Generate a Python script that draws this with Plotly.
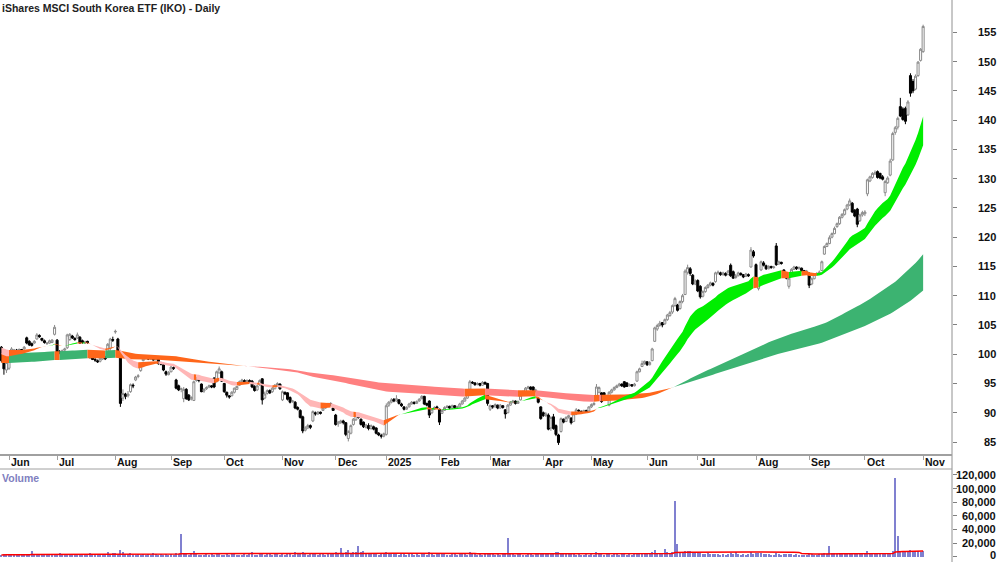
import numpy as np
import pandas as pd
import plotly.graph_objects as go

TITLE = "iShares MSCI South Korea ETF (IKO) - Daily"
HOLIDAYS = ["2024-06-10", "2024-12-25", "2024-12-26", "2025-01-01", "2025-01-27",
            "2025-04-18", "2025-04-21", "2025-04-25", "2025-06-09"]
MONTH_LABELS = ["Jun", "Jul", "Aug", "Sep", "Oct", "Nov", "Dec", "2025", "Feb", "Mar",
                "Apr", "May", "Jun", "Jul", "Aug", "Sep", "Oct", "Nov"]
PRICE_TICKS = [85, 90, 95, 100, 105, 110, 115, 120, 125, 130, 135, 140, 145, 150, 155]
VOLUME_TICKS = [0, 20000, 40000, 60000, 80000, 100000, 120000]

OPEN = [
    101.2, 99.2, 97.3,
    97.6, 99.2, 100.6, 100.7, 100.6, 100.8, 100.9, 102.8, 102.2, 101.8, 101.9, 102.6, 103.2, 102.7, 102.3, 101.8, 101.9, 102.0, 103.4,
    102.4, 100.4, 100.3, 100.7, 101.1, 102.5, 103.1, 102.7, 102.8, 102.9, 102.3, 101.9, 102.2, 100.4, 99.8, 99.1, 98.9, 98.8, 99.2, 99.5, 99.9, 101.0, 102.5,
    103.8, 102.6, 100.4, 92.5, 93.2, 92.9, 93.6, 94.7, 95.6, 96.2, 97.2, 98.9, 99.4, 99.3, 99.2, 99.3, 99.1, 99.5, 98.5, 98.2, 97.0, 96.5,
    97.0, 97.7, 95.6, 94.6, 94.0, 92.4, 94.0, 93.0, 92.4, 92.1, 95.5, 95.7, 94.9, 93.7, 94.1, 94.4, 94.6, 95.9, 95.3, 96.8, 97.0,
    95.0, 93.5, 92.9, 92.9, 93.5, 94.0, 94.7, 95.3, 95.5, 95.2, 95.5, 95.4, 94.5, 93.9, 94.8, 95.8, 92.5, 93.3, 93.8, 93.6, 94.1, 94.6, 94.9,
    92.2, 93.5, 93.4, 92.6, 91.9, 91.8, 90.9, 90.4, 89.3, 87.0, 87.4, 87.8, 88.6, 90.0, 89.8, 90.1, 90.4, 90.8, 91.2, 91.6, 90.8,
    89.6, 88.1, 88.3, 88.6, 88.3, 85.6, 86.5, 88.0, 88.8, 89.4, 88.9, 88.4, 87.5, 87.8, 87.3, 87.6, 87.4, 86.5, 86.1, 86.0,
    86.3, 91.3, 91.8, 92.3, 92.0, 92.2, 91.5, 91.0, 90.6, 91.0, 91.5, 91.8, 91.6, 92.0, 92.4, 92.8, 91.6, 92.0, 90.0, 90.6, 91.0,
    90.6, 89.9, 90.4, 90.9, 91.1, 90.8, 91.2, 90.9, 91.0, 91.5, 92.0, 92.5, 94.0, 95.2, 95.1, 94.8, 95.0, 94.7, 95.2, 95.0,
    90.6, 91.2, 91.0, 91.3, 90.8, 91.2, 90.5, 90.0, 91.3, 91.8, 92.0, 91.6, 92.2, 93.0, 93.6, 94.2, 94.4, 94.4, 93.6, 92.5, 91.0,
    90.0, 89.5, 89.6, 87.4, 89.3, 87.8, 86.2, 86.8, 88.9, 88.5, 89.2, 89.1, 88.5, 89.8, 90.4, 90.2, 90.1, 90.4, 90.3,
    91.0, 91.4, 92.6, 93.5, 93.4, 93.4, 92.5, 91.3, 93.5, 93.9, 94.3, 94.6, 94.9, 95.3, 95.1, 94.6, 94.8, 94.6, 95.4, 97.0, 97.9, 98.4,
    98.7, 98.2, 98.9, 102.2, 104.3, 104.9, 105.4, 105.2, 105.9, 106.6, 107.2, 108.3, 108.4, 107.8, 109.0, 110.2, 114.0, 114.6, 113.5, 112.0,
    112.6, 111.6, 109.9, 110.7, 111.4, 111.8, 112.1, 112.4, 113.9, 113.9, 113.6, 113.8, 113.6, 115.2, 114.1, 113.1, 113.4, 113.8, 113.6, 113.3, 113.6, 114.9, 117.5,
    115.3, 111.2, 114.4, 115.6, 115.1, 114.6, 115.0, 114.8, 118.5, 115.4, 115.7, 114.4, 113.3, 111.6, 113.5, 114.5, 114.9, 114.6, 114.7, 114.3, 113.9,
    113.8, 112.0, 112.9, 113.6, 113.9, 114.3, 117.1, 118.4, 118.9, 120.0, 120.6, 121.8, 122.3, 123.4, 123.9, 124.8, 125.5, 125.8, 124.6, 124.8, 122.8, 123.8,
    124.0, 127.4, 129.6, 130.2, 130.8, 131.2, 130.9, 130.3, 127.6, 129.3, 130.6, 133.2, 137.9, 138.8, 142.3, 141.9, 142.0, 140.9, 147.6, 146.6, 145.3, 147.6, 150.2,
    151.7,
]
HIGH = [
    101.4, 99.5, 99.0,
    99.7, 101.2, 100.9, 100.9, 101.0, 100.9, 101.4, 103.0, 102.4, 102.0, 102.4, 103.6, 103.4, 102.8, 102.5, 102.1, 102.5, 102.6, 105.0,
    102.6, 100.7, 100.8, 101.1, 103.5, 103.6, 103.3, 102.9, 103.7, 103.1, 102.5, 102.3, 102.3, 100.6, 100.0, 99.5, 99.1, 99.5, 100.0, 99.7, 101.9, 102.8, 103.0,
    104.2, 102.8, 100.6, 94.0, 93.4, 93.7, 95.0, 95.0, 96.3, 96.6, 98.5, 99.6, 99.8, 99.6, 99.6, 99.5, 99.5, 99.7, 98.7, 98.3, 97.2, 97.1,
    98.0, 97.9, 95.8, 94.8, 94.3, 94.4, 94.2, 93.2, 92.8, 95.5, 96.1, 95.9, 95.0, 94.2, 94.5, 94.8, 94.7, 96.1, 97.2, 97.9, 97.2,
    95.1, 93.6, 93.0, 93.7, 94.3, 94.6, 95.5, 95.8, 95.7, 95.7, 95.7, 95.6, 94.7, 94.7, 95.7, 95.9, 93.6, 94.0, 94.0, 94.4, 94.9, 95.2, 95.0,
    93.8, 93.6, 93.5, 92.8, 92.2, 92.0, 91.1, 90.6, 89.5, 87.7, 88.1, 88.0, 90.4, 90.2, 90.3, 90.2, 91.0, 91.5, 91.7, 91.7, 90.9,
    89.8, 88.6, 88.8, 88.8, 88.4, 87.0, 88.0, 89.1, 89.9, 89.6, 89.0, 88.5, 88.1, 88.2, 88.0, 87.8, 87.5, 86.7, 86.4, 86.6,
    91.6, 92.0, 92.5, 92.5, 93.0, 92.3, 91.7, 91.1, 91.1, 91.7, 92.0, 91.9, 92.1, 92.5, 93.0, 92.9, 91.7, 92.1, 90.8, 91.1, 91.2,
    90.7, 90.6, 91.1, 91.3, 91.2, 91.4, 91.3, 91.2, 91.7, 92.2, 92.7, 93.3, 95.6, 95.4, 95.2, 95.2, 95.1, 95.4, 95.3, 95.1,
    91.4, 91.3, 91.6, 91.4, 91.5, 91.3, 90.6, 91.5, 92.0, 92.2, 92.1, 92.1, 93.2, 93.8, 94.4, 94.6, 94.5, 94.5, 94.1, 92.6, 91.1,
    90.2, 90.1, 89.9, 89.4, 89.8, 88.0, 86.4, 89.2, 89.0, 89.4, 89.7, 89.2, 89.9, 90.8, 90.6, 90.4, 90.5, 90.5, 91.1,
    91.6, 91.8, 94.9, 94.5, 93.5, 93.5, 92.9, 93.7, 94.1, 94.5, 94.8, 95.1, 95.0, 95.4, 95.2, 95.0, 94.9, 95.1, 97.2, 97.7, 98.9, 98.9,
    98.8, 98.8, 101.1, 104.7, 105.2, 105.7, 105.5, 106.1, 106.9, 107.4, 108.5, 109.8, 108.6, 109.2, 110.3, 114.5, 115.3, 114.9, 113.7, 112.8,
    112.8, 111.8, 110.9, 111.6, 112.0, 112.4, 112.3, 114.1, 114.3, 114.1, 114.1, 114.0, 114.4, 115.5, 114.3, 113.7, 114.1, 114.0, 113.7, 113.9, 113.8, 118.3, 117.8,
    115.5, 113.0, 116.0, 115.9, 115.3, 115.2, 115.1, 115.1, 119.0, 116.0, 115.8, 114.5, 113.5, 113.2, 114.7, 115.1, 115.0, 115.0, 114.8, 114.4, 114.4,
    114.0, 113.1, 113.8, 114.0, 114.3, 116.0, 118.6, 119.1, 120.3, 120.8, 121.8, 122.5, 123.6, 124.1, 124.9, 125.7, 126.6, 126.0, 124.8, 125.0, 124.0, 124.5,
    124.6, 130.0, 130.5, 131.1, 131.4, 131.4, 131.0, 130.6, 129.8, 130.4, 133.4, 138.0, 139.0, 140.6, 143.8, 142.2, 142.3, 143.4, 148.0, 147.0, 147.8, 150.1, 152.3,
    156.3,
]
LOW = [
    98.6, 96.5, 96.8,
    97.3, 99.0, 100.3, 100.2, 100.4, 100.4, 100.8, 101.7, 101.4, 101.3, 101.8, 102.5, 102.8, 102.2, 101.8, 101.6, 101.8, 101.9, 103.2,
    100.0, 100.0, 100.1, 100.5, 100.9, 102.3, 102.6, 102.3, 102.6, 101.8, 101.8, 101.8, 101.8, 99.3, 99.0, 98.7, 98.5, 98.6, 99.0, 99.0, 99.7, 100.6, 102.1,
    103.5, 99.8, 91.0, 92.0, 92.3, 92.6, 93.4, 94.2, 95.4, 95.9, 97.0, 98.8, 99.1, 99.0, 99.0, 98.9, 98.9, 98.2, 98.1, 97.1, 96.3, 96.4,
    96.9, 97.3, 94.0, 93.7, 93.5, 91.8, 92.2, 92.0, 92.1, 92.0, 95.3, 95.2, 93.5, 93.4, 93.9, 94.2, 94.2, 94.2, 95.2, 96.7, 95.3,
    93.4, 92.6, 92.4, 92.8, 93.3, 93.9, 94.6, 95.2, 95.0, 95.1, 95.1, 94.2, 93.6, 93.7, 94.6, 91.4, 92.3, 93.1, 93.2, 93.4, 94.0, 94.4, 93.9,
    92.0, 93.0, 92.1, 91.6, 91.7, 90.6, 90.4, 89.0, 86.5, 86.8, 87.2, 87.2, 88.4, 89.5, 89.6, 89.7, 90.3, 90.7, 91.1, 91.1, 90.3,
    87.8, 87.6, 88.1, 88.0, 86.0, 85.1, 86.3, 87.8, 88.6, 89.0, 87.8, 87.4, 87.3, 87.0, 87.1, 87.0, 86.3, 86.0, 85.6, 85.8,
    86.1, 91.0, 91.6, 91.8, 91.9, 91.4, 91.0, 90.4, 90.5, 90.9, 91.4, 91.4, 91.5, 91.9, 92.3, 91.3, 91.1, 89.1, 89.8, 90.5, 90.6,
    87.9, 89.8, 90.3, 90.8, 90.6, 90.7, 90.7, 90.8, 90.9, 91.4, 91.9, 92.4, 93.8, 94.9, 94.6, 94.7, 94.5, 94.6, 94.8, 91.2,
    90.3, 90.7, 90.9, 90.6, 90.7, 90.7, 89.0, 89.9, 91.2, 91.6, 91.4, 91.5, 92.1, 92.9, 93.5, 94.0, 93.8, 93.4, 93.5, 91.6, 88.8,
    89.3, 89.3, 87.0, 86.9, 87.1, 86.0, 84.5, 86.6, 88.2, 88.4, 89.0, 88.0, 88.4, 89.6, 90.1, 89.9, 90.0, 90.0, 90.2,
    90.8, 91.2, 92.5, 93.3, 91.7, 92.3, 92.3, 91.1, 93.3, 93.8, 94.2, 94.5, 94.4, 94.3, 94.4, 94.5, 94.4, 94.5, 95.3, 96.9, 97.8, 98.2,
    98.0, 98.1, 98.8, 102.1, 104.0, 104.7, 104.6, 105.0, 105.7, 106.4, 106.9, 108.1, 107.3, 107.6, 108.7, 110.1, 113.6, 113.4, 111.8, 111.8,
    110.6, 109.5, 109.7, 110.5, 111.2, 111.6, 111.6, 112.2, 113.6, 113.4, 113.4, 113.3, 113.5, 113.2, 112.9, 112.9, 113.3, 113.4, 113.0, 113.2, 113.2, 114.8, 116.5,
    112.0, 110.9, 114.2, 115.0, 114.4, 114.5, 114.6, 114.6, 115.1, 115.3, 115.3, 113.1, 112.8, 111.2, 113.4, 114.4, 114.4, 114.5, 114.1, 113.7, 113.8,
    111.3, 111.8, 112.8, 113.4, 113.7, 114.2, 117.0, 118.3, 118.8, 119.8, 120.5, 121.6, 122.1, 123.2, 123.7, 124.6, 125.3, 124.1, 123.4, 121.7, 122.6, 123.5,
    123.6, 127.0, 129.4, 130.0, 130.6, 130.0, 129.9, 129.7, 127.0, 129.1, 130.4, 133.0, 137.5, 138.4, 140.5, 139.9, 139.3, 140.7, 144.0, 144.6, 145.1, 147.4, 150.0,
    151.5,
]
CLOSE = [
    98.9, 97.5, 98.6,
    99.4, 100.9, 100.7, 100.5, 100.8, 100.6, 101.2, 101.9, 101.6, 101.5, 102.2, 103.3, 103.0, 102.4, 102.0, 101.9, 102.3, 102.4, 104.6,
    100.3, 100.3, 100.6, 100.9, 103.3, 103.4, 102.8, 102.5, 103.3, 101.9, 102.0, 102.1, 102.0, 99.4, 99.1, 99.0, 98.7, 99.3, 99.6, 99.2, 101.7, 102.6, 102.4,
    103.9, 100.1, 91.6, 93.3, 92.8, 93.2, 94.8, 94.6, 96.1, 96.3, 98.3, 99.3, 99.5, 99.2, 99.4, 99.0, 99.3, 98.4, 98.3, 97.3, 96.6, 96.9,
    97.8, 97.6, 94.2, 93.9, 94.1, 94.0, 92.4, 92.2, 92.6, 95.3, 95.8, 95.5, 93.6, 94.0, 94.3, 94.6, 94.4, 94.4, 97.0, 97.5, 95.4,
    93.6, 93.0, 92.7, 93.5, 94.2, 94.5, 95.3, 95.6, 95.2, 95.5, 95.3, 94.4, 93.8, 94.6, 95.5, 92.2, 93.2, 93.8, 93.4, 94.2, 94.7, 95.0, 94.1,
    93.6, 93.2, 92.3, 91.8, 92.0, 90.8, 90.6, 89.2, 86.9, 87.4, 87.8, 87.5, 90.2, 89.8, 90.1, 89.9, 90.8, 91.3, 91.5, 91.3, 90.4,
    88.0, 88.4, 88.6, 88.3, 86.3, 86.8, 87.8, 88.9, 89.5, 89.2, 88.0, 87.6, 87.9, 87.3, 87.8, 87.2, 86.5, 86.2, 86.0, 86.4,
    91.2, 91.8, 92.2, 92.0, 92.4, 91.6, 91.2, 90.6, 90.9, 91.5, 91.8, 91.6, 91.9, 92.3, 92.8, 91.5, 91.3, 89.6, 90.6, 90.9, 90.8,
    88.4, 90.4, 90.9, 91.1, 90.8, 91.2, 90.9, 91.0, 91.5, 92.0, 92.5, 93.1, 95.3, 95.1, 94.8, 95.0, 94.7, 95.2, 94.9, 91.6,
    91.2, 91.0, 91.4, 90.8, 91.3, 90.9, 89.8, 91.3, 91.8, 92.0, 91.6, 91.9, 93.0, 93.6, 94.2, 94.4, 94.0, 93.6, 93.9, 91.8, 89.0,
    89.5, 89.8, 87.2, 89.2, 87.3, 86.3, 84.9, 89.0, 88.4, 89.2, 89.5, 88.3, 89.8, 90.5, 90.3, 90.1, 90.4, 90.2, 91.0,
    91.4, 91.6, 94.4, 94.3, 91.9, 92.4, 92.7, 93.5, 93.9, 94.3, 94.6, 94.9, 94.6, 94.4, 94.5, 94.8, 94.6, 94.9, 97.0, 97.5, 98.4, 98.8,
    98.2, 98.6, 100.9, 104.5, 104.9, 105.3, 105.0, 105.9, 106.7, 107.1, 108.3, 109.5, 107.5, 109.0, 110.0, 114.2, 114.8, 113.8, 112.0, 112.5,
    110.8, 109.8, 110.7, 111.4, 111.8, 112.2, 111.8, 113.9, 114.0, 113.6, 113.9, 113.5, 114.2, 113.4, 113.0, 113.4, 113.9, 113.6, 113.2, 113.7, 113.4, 117.8, 116.8,
    112.2, 112.8, 115.8, 115.2, 114.6, 115.0, 114.8, 114.9, 115.3, 115.8, 115.5, 113.2, 113.0, 113.0, 114.5, 114.9, 114.6, 114.8, 114.3, 113.9, 114.2,
    111.8, 112.9, 113.6, 113.8, 114.0, 115.8, 118.4, 118.9, 119.9, 120.6, 121.5, 122.3, 123.4, 123.9, 124.7, 125.5, 126.2, 124.3, 123.6, 122.2, 123.8, 124.2,
    124.3, 129.8, 130.3, 130.9, 131.0, 130.2, 130.1, 129.9, 129.5, 130.1, 133.0, 137.7, 138.7, 140.3, 140.7, 140.1, 139.8, 143.1, 144.6, 145.0, 147.5, 149.9, 152.1,
    156.0,
]
VOLUME = [
    2600, 3900, 2100,
    3400, 2200, 1800, 2900, 4100, 2500, 3300, 2000, 2700, 7800, 3100, 2300, 1900, 2600, 3500, 2800, 4400, 2100, 3000,
    4200, 5400, 2800, 3600, 2500, 1900, 4700, 3300, 2600, 3800, 2200, 3000, 2400, 5100, 3500, 2900, 4300, 2700, 3200, 2500, 6200, 3900, 4800,
    5500, 4100, 10500, 6800, 4400, 3700, 5200, 3100, 2800, 3900, 2600, 3400, 2300, 4100, 2900, 5600, 3300, 2400, 3800, 2700, 4500, 3000,
    3600, 2500, 4800, 3900, 33000, 4400, 3300, 2600, 5200, 8000, 3500, 2800, 3100, 2300, 4200, 2900, 3700, 2400, 3400, 5800, 3000,
    2700, 3800, 2200, 3300, 4600, 2500, 3000, 1900, 3600, 2800, 4100, 6500, 3200, 2600, 4400, 3700, 2900, 5100, 3400, 2300, 3900, 4700, 3100,
    4300, 3100, 5600, 3800, 2700, 6200, 3500, 4900, 7100, 3600, 2800, 4200, 5300, 3300, 2500, 4600, 3900, 2900, 3700, 5800, 3400,
    6800, 5200, 13500, 6100, 7400, 10500, 5900, 6600, 7000, 15000, 6300, 8000, 4800, 5600, 4200, 3600, 5100, 2900, 3800, 4400,
    6200, 4100, 3500, 4800, 3300, 2700, 4400, 3900, 3000, 5200, 3600, 2800, 4300, 3100, 3700, 5500, 2900, 6400, 3800, 3200, 4000,
    5900, 3700, 4500, 3100, 2600, 4200, 3400, 2900, 3800, 4600, 3300, 2800, 6300, 4100, 3500, 2700, 3900, 3000, 4400, 6100,
    4700, 3600, 3100, 4200, 2800, 3900, 5200, 27000, 4300, 3300, 2700, 3800, 4600, 3200, 2900, 4100, 3500, 2600, 3700, 4900, 5600,
    5300, 4000, 6100, 4800, 5700, 6600, 7300, 5900, 3800, 4400, 3300, 4100, 3600, 2900, 3900, 3200, 2700, 3500, 3000,
    3800, 3200, 6500, 4400, 3700, 3100, 4200, 3500, 2800, 3900, 3300, 2600, 4100, 3400, 2900, 3600, 3000, 4500, 3700, 4800, 4200, 5100,
    4600, 3900, 6800, 9200, 5400, 4700, 5800, 12000, 6300, 5100, 7400, 82000, 18000, 6200, 7100, 8300, 7900, 8400, 7600, 5800,
    4900, 5600, 4300, 3700, 4800, 3500, 4100, 3300, 3900, 2900, 3600, 3200, 4400, 5300, 3800, 6200, 3400, 3000, 3700, 2800, 3500, 6400, 4600,
    5700, 4900, 5200, 3800, 3300, 3600, 2900, 3100, 5500, 3700, 3200, 4300, 3500, 4600, 3400, 2800, 3300, 2700, 3100, 2600, 3000,
    4200, 3500, 3100, 2800, 3300, 4400, 5200, 4600, 16000, 5800, 4900, 4300, 5100, 3900, 4500, 3700, 4200, 5400, 4800, 4100, 3600, 3900,
    4600, 7800, 5300, 4900, 4400, 5100, 4700, 5500, 5900, 5200, 6100, 8400, 116000, 31000, 7200, 6500, 7700, 6900, 9500, 7400, 8100, 9000, 7600,
    8800,
]

SHORT_FAST, SHORT_SLOW = 21, 34
LONG_FAST, LONG_SLOW = 144, 233
SEED = {SHORT_FAST: 100.1, SHORT_SLOW: 101.3, LONG_FAST: 100.2, LONG_SLOW: 98.5}

dates = [d for d in pd.bdate_range("2024-05-29", "2025-11-03")
         if d.strftime("%Y-%m-%d") not in HOLIDAYS]
n = len(CLOSE)
assert len(dates) == n == len(OPEN) == len(HIGH) == len(LOW) == len(VOLUME)
idx = np.arange(n)

month_idx = []
for i in range(1, n):
    if dates[i].month != dates[i - 1].month:
        month_idx.append(i)


def ema(vals, period, seed):
    a = 2.0 / (period + 1)
    out, prev = [], seed
    for v in vals:
        prev = prev + a * (v - prev)
        out.append(prev)
    return np.array(out)


def band(fast, slow, fseed, cols):
    # colour: fast above slow and rising -> up; fast below slow and falling -> down; else mixed
    df = np.diff(np.concatenate([[fseed], fast]))
    gap = fast - slow
    state = [cols[0] if (g > 0 and d > 0) else cols[1] if (g < 0 and d < 0) else cols[2]
             for g, d in zip(gap, df)]
    traces = []
    s = 0
    for i in range(1, n + 1):
        if i == n or state[i] != state[s]:
            s0 = max(s - 1, 0)
            xs = list(idx[s0:i]) + list(idx[s0:i][::-1])
            ys = list(fast[s0:i]) + list(slow[s0:i][::-1])
            traces.append(go.Scatter(x=xs, y=ys, fill="toself", fillcolor=state[s],
                                     line=dict(width=0), mode="lines", hoverinfo="skip",
                                     xaxis="x", yaxis="y"))
            s = i
    return traces


closes = np.array(CLOSE)
sf = ema(closes, SHORT_FAST, SEED[SHORT_FAST])
ss = ema(closes, SHORT_SLOW, SEED[SHORT_SLOW])
lf = ema(closes, LONG_FAST, SEED[LONG_FAST])
ls = ema(closes, LONG_SLOW, SEED[LONG_SLOW])

ORANGE = "#ff661a"
fig = go.Figure()
for t in band(lf, ls, SEED[LONG_FAST], ["#3cb371", "#ff8080", ORANGE]):
    fig.add_trace(t)
for t in band(sf, ss, SEED[SHORT_FAST], ["#00ee00", "#ffb6b6", ORANGE]):
    fig.add_trace(t)

fig.add_trace(go.Candlestick(
    x=idx, open=OPEN, high=HIGH, low=LOW, close=CLOSE,
    increasing=dict(line=dict(color="#8a8a8a", width=1), fillcolor="white"),
    decreasing=dict(line=dict(color="black", width=1), fillcolor="black"),
    whiskerwidth=0, xaxis="x", yaxis="y", hoverinfo="skip"))

vol_avg = pd.Series(VOLUME).rolling(50, min_periods=1).mean()
fig.add_trace(go.Bar(x=idx, y=VOLUME, marker=dict(color="#8080d0", line=dict(width=0)),
                     width=0.45, xaxis="x2", yaxis="y2", hoverinfo="skip"))
fig.add_trace(go.Scatter(x=idx, y=vol_avg, mode="lines", line=dict(color="#ff0000", width=1.5),
                         xaxis="x2", yaxis="y2", hoverinfo="skip"))

W, H = 1000, 562
PLOT_R = 952
PRICE_BOTTOM = 455
VOL_TOP = 469
FONT = "Liberation Sans, Arial, sans-serif"
xr = [-0.553, 375.4]

annotations = [dict(text="<b>%s</b>" % TITLE, xref="paper", yref="paper", x=0, y=1 - 8 / H,
                    xanchor="left", yanchor="middle", xshift=0, showarrow=False,
                    font=dict(family=FONT, size=10.5, color="#222222")),
               dict(text="<b>Volume</b>", xref="paper", yref="paper", x=0,
                    y=1 - 478 / H, xanchor="left", yanchor="middle", xshift=0, showarrow=False,
                    font=dict(family=FONT, size=10.5, color="#8080c0"))]
for lab, mi in zip(MONTH_LABELS, month_idx):
    annotations.append(dict(text="<b>%s</b>" % lab, xref="x", yref="paper", x=mi,
                            y=1 - 462 / H, xanchor="left", yanchor="middle", xshift=0,
                            showarrow=False, font=dict(family=FONT, size=10.5, color="#111111")))
for v in PRICE_TICKS:
    annotations.append(dict(text="<b>%d</b>" % v, xref="paper", yref="y", x=998 / PLOT_R, y=v,
                            xanchor="right", yanchor="middle", showarrow=False,
                            font=dict(family=FONT, size=11, color="#111111")))
for v in VOLUME_TICKS:
    annotations.append(dict(text="<b>{:,}</b>".format(v), xref="paper", yref="y2", x=998 / PLOT_R,
                            y=v, xanchor="right", yanchor="middle", showarrow=False,
                            yshift=2 if v == 0 else 0,
                            font=dict(family=FONT, size=11, color="#111111")))

shapes = [
    dict(type="line", xref="paper", yref="paper", x0=1, x1=1, y0=0, y1=1,
         line=dict(color="#909090", width=1)),
    dict(type="line", xref="paper", yref="paper", x0=0, x1=1, y0=1 - PRICE_BOTTOM / H,
         y1=1 - PRICE_BOTTOM / H, line=dict(color="#a0a0a0", width=2)),
    dict(type="line", xref="paper", yref="paper", x0=0, x1=1, y0=1 - VOL_TOP / H,
         y1=1 - VOL_TOP / H, line=dict(color="#a0a0a0", width=1)),
]

fig.update_layout(
    width=W, height=H, margin=dict(l=0, r=W - PLOT_R, t=0, b=0),
    paper_bgcolor="white", plot_bgcolor="white", showlegend=False,
    boxgap=0.2, boxgroupgap=0, bargap=0,
    xaxis=dict(domain=[0, 1], range=xr, anchor="y", showgrid=False, zeroline=False,
               showline=False, ticks="outside", tickvals=month_idx, ticklen=4,
               tickcolor="#a0a0a0", showticklabels=False, rangeslider=dict(visible=False)),
    xaxis2=dict(domain=[0, 1], range=xr, anchor="y2", matches="x", showgrid=False,
                zeroline=False, showline=False, showticklabels=False, ticks=""),
    yaxis=dict(domain=[1 - PRICE_BOTTOM / H, 1], range=[82.78, 160.52], side="right",
               showgrid=False, zeroline=False, showline=False, ticks="outside",
               tickvals=PRICE_TICKS, ticklen=4, tickcolor="#808080", showticklabels=False),
    yaxis2=dict(domain=[0, 1 - VOL_TOP / H], range=[-7785, 128800], side="right",
                showgrid=False, zeroline=False, showline=False, ticks="outside",
                tickvals=VOLUME_TICKS, ticklen=4, tickcolor="#808080", showticklabels=False),
    annotations=annotations, shapes=shapes,
)

fig.write_html("out.html")
